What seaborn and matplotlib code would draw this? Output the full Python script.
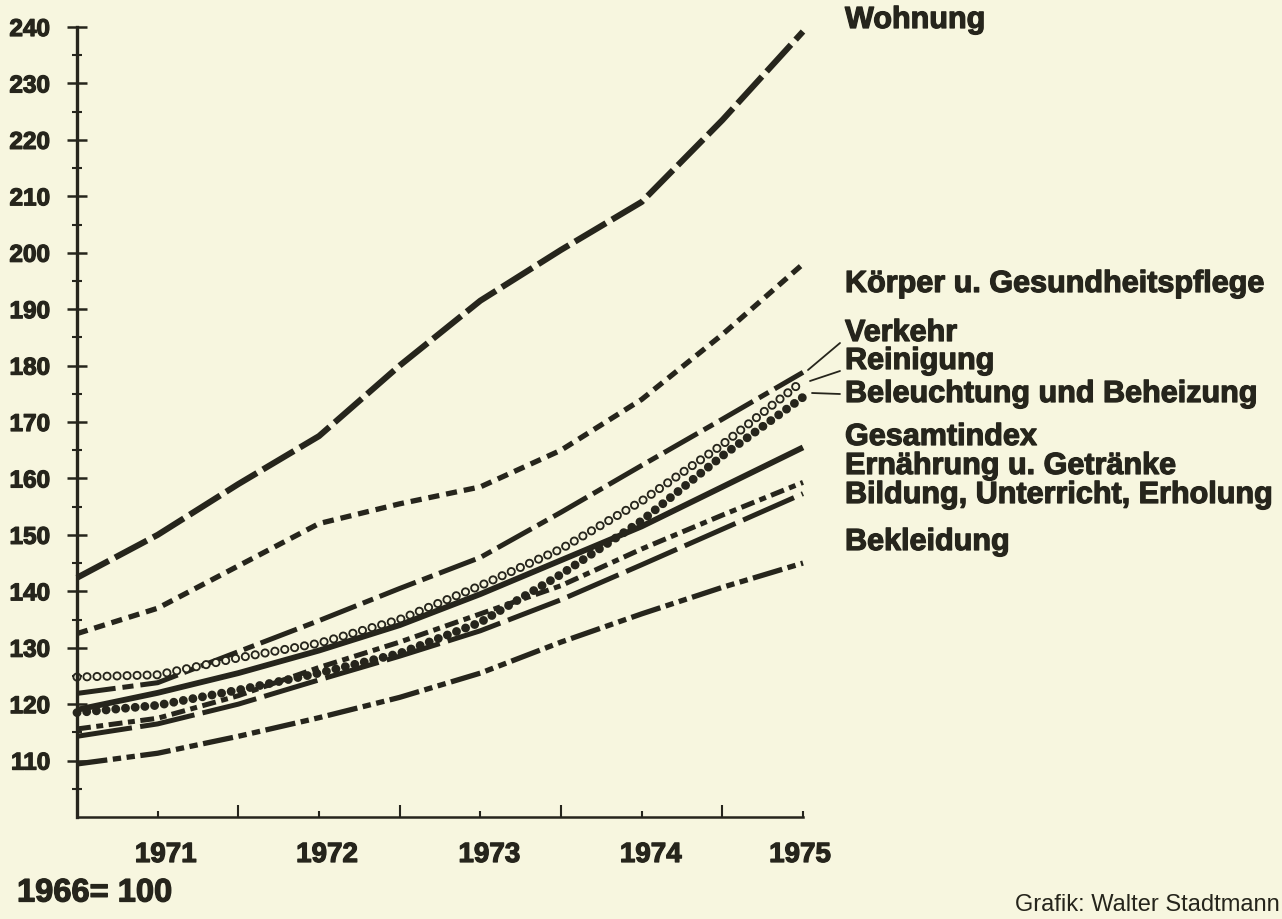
import matplotlib
matplotlib.use("Agg")
import matplotlib.pyplot as plt
from matplotlib.lines import Line2D
from matplotlib.ticker import FixedLocator
from matplotlib.transforms import ScaledTranslation
import matplotlib.patheffects as pe
import seaborn as sns

# ---------------- data (index, 1966 = 100) ----------------
years = [1970.5, 1971, 1971.5, 1972, 1972.5, 1973, 1973.5, 1974, 1974.5, 1975]

wohnung = [142.4, 150.0, 159.0, 167.5, 180.0, 191.5, 200.5, 209.0, 223.5, 239.2]
koerper = [132.5, 137.0, 144.5, 152.0, 155.5, 158.5, 165.0, 174.0, 185.5, 198.0]
verkehr = [121.9, 123.8, 129.3, 134.8, 140.5, 146.0, 154.0, 162.3, 170.5, 178.8]
reinigung = [124.8, 125.2, 128.2, 130.8, 135.0, 141.0, 147.5, 156.0, 166.0, 177.3]
beleuchtung = [118.5, 119.8, 122.5, 125.5, 129.0, 134.5, 143.0, 152.5, 164.0, 174.4]
gesamtindex = [119.0, 122.0, 125.5, 129.5, 134.0, 139.5, 145.5, 151.5, 158.5, 165.5]
ernaehrung = [115.6, 117.5, 121.5, 126.5, 131.0, 136.0, 141.0, 147.5, 153.5, 159.3]
bildung = [114.3, 116.5, 120.0, 124.3, 128.5, 133.0, 138.5, 144.7, 151.0, 157.3]
bekleidung = [109.4, 111.3, 114.3, 117.6, 121.2, 125.5, 131.0, 136.0, 140.7, 145.0]

year_ticks = [1971, 1972, 1973, 1974, 1975]
year_labels = ["1971", "1972", "1973", "1974", "1975"]
y_major = list(range(110, 241, 10))
y_minor = list(range(105, 240, 10))

labels = ["Wohnung", "Körper u. Gesundheitspflege", "Verkehr", "Reinigung",
          "Beleuchtung und Beheizung", "Gesamtindex", "Ernährung u. Getränke",
          "Bildung, Unterricht, Erholung", "Bekleidung"]
base_note = "1966= 100"
credit = "Grafik: Walter Stadtmann"

# ---------------- style ----------------
BG = "#f7f6df"
INK = "#26251c"
sns.set_theme(style="ticks")
plt.rcParams["font.family"] = ["Liberation Sans", "DejaVu Sans"]
plt.rcParams["lines.scale_dashes"] = False
heavy = [pe.withStroke(linewidth=0.9, foreground=INK)]

W, H = 1282, 919
fig = plt.figure(figsize=(W / 100, H / 100), dpi=100, facecolor=BG)
ax = fig.add_axes([77 / W, 1 - 817 / H, (803 - 77) / W, (817 - 27) / H])
ax.set_facecolor(BG)

common = dict(ax=ax, color=INK, clip_on=False, legend=False)

sns.lineplot(x=years, y=wohnung, linewidth=4.4, linestyle=(0, (26, 5)),
             dash_capstyle="butt", **common)
sns.lineplot(x=years, y=koerper, linewidth=3.8, linestyle=(0, (8, 5)),
             dash_capstyle="butt", **common)
sns.lineplot(x=years, y=verkehr, linewidth=3.6, linestyle=(0, (28, 5, 8, 5)),
             dash_capstyle="butt", **common)
# open circles (Reinigung)
sns.lineplot(x=years, y=reinigung, linewidth=6.6, linestyle=(0, (0.01, 7.2)),
             dash_capstyle="round", **common)
sns.lineplot(x=years, y=reinigung, ax=ax, color=BG, clip_on=False, legend=False,
             linewidth=3.9, linestyle=(0, (0.01, 7.2)), dash_capstyle="round")
# filled dots (Beleuchtung)
sns.lineplot(x=years, y=beleuchtung, linewidth=6.4, linestyle=(0, (0.01, 7.0)),
             dash_capstyle="round", **common)
sns.lineplot(x=years, y=gesamtindex, linewidth=4.2, linestyle="-",
             solid_capstyle="butt", **common)
sns.lineplot(x=years, y=ernaehrung, linewidth=3.6, linestyle=(0, (10, 4, 5, 4)),
             dash_capstyle="butt", **common)
sns.lineplot(x=years, y=bildung, linewidth=3.6, linestyle=(0, (40, 6)),
             dash_capstyle="butt", **common)
sns.lineplot(x=years, y=bekleidung, linewidth=3.8,
             linestyle=(0, (22, 4, 6, 4, 6, 4)), dash_capstyle="butt", **common)

# ---------------- axes ----------------
ax.set_xlim(1970.5, 1975.0)
ax.set_ylim(100, 240)
ax.set_xlabel("")
ax.set_ylabel("")
for s in ("top", "right"):
    ax.spines[s].set_visible(False)
ax.spines["left"].set_linewidth(2.4)
ax.spines["bottom"].set_linewidth(1.8)
ax.spines["left"].set_color(INK)
ax.spines["bottom"].set_color(INK)

ax.xaxis.set_major_locator(FixedLocator(year_ticks))
ax.set_xticklabels(year_labels)
ax.xaxis.set_minor_locator(FixedLocator([y + 0.5 for y in year_ticks[:-1]]))
ax.tick_params(axis="x", which="major", direction="in", length=4, width=1.5,
               color=INK, pad=18, labelsize=20, labelcolor=INK)
ax.tick_params(axis="x", which="minor", direction="in", length=9, width=1.5,
               color=INK)
x_label_shift = [8, 8, 9, 9, -3]
for t, dx in zip(ax.get_xticklabels(), x_label_shift):
    t.set_fontweight("bold")
    t.set_path_effects(heavy)
    t.set_transform(t.get_transform() +
                    ScaledTranslation(dx / 100, 0, fig.dpi_scale_trans))

ax.yaxis.set_major_locator(FixedLocator(y_major))
ax.set_yticklabels([str(v) for v in y_major])
ax.yaxis.set_minor_locator(FixedLocator(y_minor))
ax.tick_params(axis="y", which="major", direction="inout", length=15, width=1.8,
               color=INK, pad=12, labelsize=17.5, labelcolor=INK)
ax.tick_params(axis="y", which="minor", direction="inout", length=7, width=1.5,
               color=INK)
for t in ax.get_yticklabels():
    t.set_fontweight("bold")
    t.set_path_effects(heavy)

# ---------------- right-hand labels ----------------
label_y = [20, 284, 333, 361, 394, 437, 466, 495, 542]
for lab, yc in zip(labels, label_y):
    fig.text(845 / W, 1 - yc / H, lab, ha="left", va="center",
             fontsize=22, fontweight="bold", color=INK, path_effects=heavy)

# leader lines to the three crowded labels
for (x0, y0), (x1, y1) in [((808, 370), (840, 343)),
                           ((810, 381), (840, 371)),
                           ((812, 393), (840, 394))]:
    fig.add_artist(Line2D([x0 / W, x1 / W], [1 - y0 / H, 1 - y1 / H],
                          transform=fig.transFigure, color=INK, linewidth=1.3))

fig.text(17 / W, 1 - 893 / H, base_note, ha="left", va="center",
         fontsize=23.5, fontweight="bold", color=INK, path_effects=heavy)
fig.text(1015 / W, 1 - 916 / H, credit, ha="left", va="bottom",
         fontsize=17, color=INK)

fig.savefig("out.png", dpi=100, facecolor=BG)
